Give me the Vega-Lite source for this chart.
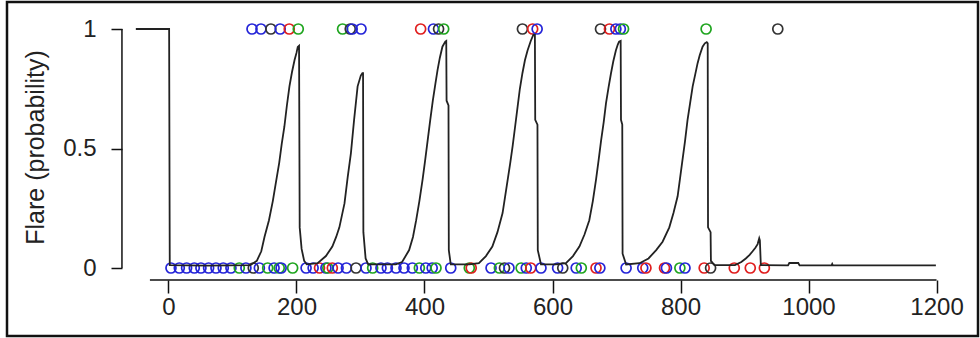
{
  "$schema": "https://vega.github.io/schema/vega-lite/v6.json",
  "width": 971,
  "height": 334,
  "autosize": {"type": "none"},
  "padding": {"left": 7, "top": 2, "right": 2, "bottom": 2},
  "background": "white",
  "config": {
    "view": {"stroke": "#111111", "strokeWidth": 2.5},
    "axis": {
      "grid": false,
      "domain": false,
      "tickColor": "#111111",
      "tickWidth": 1.5,
      "labelColor": "#222222",
      "titleColor": "#222222",
      "labelFont": "Liberation Sans",
      "titleFont": "Liberation Sans",
      "labelFontSize": 24,
      "titleFontSize": 25,
      "titleFontWeight": "normal"
    },
    "axisX": {"offset": -56, "tickSize": 13, "labelPadding": 2, "labelFlush": false, "labelOverlap": false},
    "axisY": {"offset": -115, "tickSize": 11, "labelPadding": 15, "titleX": -79, "titleY": 145, "titleAngle": -90, "titleAlign": "center", "titleBaseline": "alphabetic", "labelFlush": false, "labelOverlap": false}
  },
  "datasets": {
    "prob": [
      {"t": -51, "p": 1}, {"t": 1, "p": 1}, {"t": 2, "p": 0.012}, {"t": 60, "p": 0.01}, {"t": 128, "p": 0.012},
      {"t": 138, "p": 0.03}, {"t": 145, "p": 0.07}, {"t": 150, "p": 0.13}, {"t": 157, "p": 0.2}, {"t": 163, "p": 0.28},
      {"t": 168, "p": 0.36}, {"t": 173, "p": 0.44}, {"t": 177, "p": 0.52}, {"t": 181, "p": 0.59}, {"t": 185, "p": 0.68},
      {"t": 189, "p": 0.76}, {"t": 193, "p": 0.82}, {"t": 197, "p": 0.87}, {"t": 200, "p": 0.9}, {"t": 202, "p": 0.925},
      {"t": 204, "p": 0.93}, {"t": 205, "p": 0.17}, {"t": 208, "p": 0.08}, {"t": 212, "p": 0.03}, {"t": 216, "p": 0.015},
      {"t": 233, "p": 0.02}, {"t": 246, "p": 0.05}, {"t": 256, "p": 0.09}, {"t": 262, "p": 0.13}, {"t": 267, "p": 0.17},
      {"t": 271, "p": 0.22}, {"t": 275, "p": 0.27}, {"t": 280, "p": 0.38}, {"t": 285, "p": 0.48}, {"t": 290, "p": 0.62},
      {"t": 295.5, "p": 0.76}, {"t": 300.5, "p": 0.805}, {"t": 303, "p": 0.815}, {"t": 304, "p": 0.815}, {"t": 304.5, "p": 0.15},
      {"t": 308, "p": 0.04}, {"t": 312, "p": 0.015},
      {"t": 355, "p": 0.015}, {"t": 365, "p": 0.025}, {"t": 376, "p": 0.075}, {"t": 382, "p": 0.13}, {"t": 387, "p": 0.2},
      {"t": 392, "p": 0.28}, {"t": 397, "p": 0.37}, {"t": 401, "p": 0.45}, {"t": 405, "p": 0.535}, {"t": 409, "p": 0.62},
      {"t": 413, "p": 0.7}, {"t": 417, "p": 0.77}, {"t": 420.5, "p": 0.83}, {"t": 424, "p": 0.88}, {"t": 428, "p": 0.926},
      {"t": 432.5, "p": 0.947}, {"t": 434, "p": 0.95}, {"t": 434.5, "p": 0.7}, {"t": 437.5, "p": 0.68}, {"t": 438, "p": 0.075},
      {"t": 441, "p": 0.015},
      {"t": 470, "p": 0.015}, {"t": 485, "p": 0.02}, {"t": 496, "p": 0.05}, {"t": 506, "p": 0.09}, {"t": 514, "p": 0.15},
      {"t": 522, "p": 0.23}, {"t": 526, "p": 0.3}, {"t": 530, "p": 0.37}, {"t": 534, "p": 0.44}, {"t": 537.7, "p": 0.51},
      {"t": 541.5, "p": 0.59}, {"t": 545.5, "p": 0.675}, {"t": 549, "p": 0.75}, {"t": 553, "p": 0.815}, {"t": 557, "p": 0.87},
      {"t": 561, "p": 0.91}, {"t": 566, "p": 0.95}, {"t": 570, "p": 0.975}, {"t": 572.5, "p": 0.975}, {"t": 573, "p": 0.62},
      {"t": 576.5, "p": 0.6}, {"t": 577, "p": 0.075}, {"t": 582, "p": 0.015},
      {"t": 605, "p": 0.015}, {"t": 621, "p": 0.02}, {"t": 632, "p": 0.05}, {"t": 642, "p": 0.09}, {"t": 650, "p": 0.14},
      {"t": 657.5, "p": 0.2}, {"t": 663, "p": 0.28}, {"t": 668, "p": 0.37}, {"t": 672, "p": 0.45}, {"t": 676, "p": 0.535},
      {"t": 680, "p": 0.61}, {"t": 683.6, "p": 0.69}, {"t": 687.5, "p": 0.755}, {"t": 691.4, "p": 0.815}, {"t": 695, "p": 0.865},
      {"t": 699, "p": 0.91}, {"t": 702, "p": 0.935}, {"t": 704, "p": 0.947}, {"t": 706.5, "p": 0.95}, {"t": 707, "p": 0.62},
      {"t": 709, "p": 0.6}, {"t": 709.5, "p": 0.06}, {"t": 715, "p": 0.015},
      {"t": 736, "p": 0.02}, {"t": 750, "p": 0.04}, {"t": 762, "p": 0.075}, {"t": 772, "p": 0.11}, {"t": 782.5, "p": 0.17},
      {"t": 789, "p": 0.23}, {"t": 795.5, "p": 0.3}, {"t": 799, "p": 0.37}, {"t": 803, "p": 0.45}, {"t": 807, "p": 0.53},
      {"t": 811, "p": 0.62}, {"t": 815, "p": 0.69}, {"t": 819, "p": 0.76}, {"t": 823, "p": 0.81}, {"t": 826.7, "p": 0.857},
      {"t": 830, "p": 0.89}, {"t": 834.5, "p": 0.926}, {"t": 838, "p": 0.94}, {"t": 841, "p": 0.945}, {"t": 842.5, "p": 0.94},
      {"t": 843, "p": 0.17}, {"t": 847, "p": 0.15}, {"t": 847.5, "p": 0.03}, {"t": 853, "p": 0.012},
      {"t": 885, "p": 0.012}, {"t": 895, "p": 0.025}, {"t": 902, "p": 0.04}, {"t": 908, "p": 0.055}, {"t": 912.7, "p": 0.07},
      {"t": 917, "p": 0.085}, {"t": 920.5, "p": 0.1}, {"t": 923, "p": 0.124}, {"t": 924, "p": 0.115}, {"t": 925.5, "p": 0.012},
      {"t": 968, "p": 0.011}, {"t": 970, "p": 0.021}, {"t": 984, "p": 0.021}, {"t": 986, "p": 0.011}, {"t": 1036, "p": 0.011},
      {"t": 1037, "p": 0.017}, {"t": 1038, "p": 0.011}, {"t": 1199, "p": 0.011}
    ],
    "events": [
      {"t": 130.5, "p": 1, "g": "g1"}, {"t": 144.5, "p": 1, "g": "g1"}, {"t": 160, "p": 1, "g": "g4"}, {"t": 174.5, "p": 1, "g": "g1"},
      {"t": 188.7, "p": 1, "g": "g2"}, {"t": 202.8, "p": 1, "g": "g3"}, {"t": 272, "p": 1, "g": "g3"}, {"t": 284, "p": 1, "g": "g4"},
      {"t": 287, "p": 1, "g": "g1"}, {"t": 300.8, "p": 1, "g": "g1"}, {"t": 394, "p": 1, "g": "g2"}, {"t": 414, "p": 1, "g": "g1"},
      {"t": 422, "p": 1, "g": "g4"}, {"t": 430, "p": 1, "g": "g3"}, {"t": 553, "p": 1, "g": "g4"}, {"t": 569, "p": 1, "g": "g2"},
      {"t": 576, "p": 1, "g": "g1"}, {"t": 675, "p": 1, "g": "g4"}, {"t": 689, "p": 1, "g": "g2"}, {"t": 699, "p": 1, "g": "g1"},
      {"t": 706, "p": 1, "g": "g1"}, {"t": 711, "p": 1, "g": "g3"}, {"t": 840, "p": 1, "g": "g3"}, {"t": 952, "p": 1, "g": "g4"},
      {"t": 3.9, "p": 0, "g": "g1"}, {"t": 16.9, "p": 0, "g": "g1"}, {"t": 28.3, "p": 0, "g": "g1"}, {"t": 40.3, "p": 0, "g": "g1"},
      {"t": 50.7, "p": 0, "g": "g1"}, {"t": 62.7, "p": 0, "g": "g1"}, {"t": 74.2, "p": 0, "g": "g1"}, {"t": 85.6, "p": 0, "g": "g1"},
      {"t": 97.6, "p": 0, "g": "g1"}, {"t": 110.6, "p": 0, "g": "g3"}, {"t": 121, "p": 0, "g": "g1"}, {"t": 132.5, "p": 0, "g": "g4"},
      {"t": 142, "p": 0, "g": "g1"}, {"t": 155, "p": 0, "g": "g3"}, {"t": 165, "p": 0, "g": "g1"}, {"t": 173, "p": 0, "g": "g3"},
      {"t": 176, "p": 0, "g": "g1"}, {"t": 194, "p": 0, "g": "g3"}, {"t": 215, "p": 0, "g": "g1"}, {"t": 226, "p": 0, "g": "g1"},
      {"t": 236, "p": 0, "g": "g2"}, {"t": 246, "p": 0, "g": "g1"}, {"t": 249, "p": 0, "g": "g3"}, {"t": 256, "p": 0, "g": "g2"},
      {"t": 265, "p": 0, "g": "g1"}, {"t": 278, "p": 0, "g": "g1"}, {"t": 293, "p": 0, "g": "g4"}, {"t": 308.6, "p": 0, "g": "g1"},
      {"t": 319, "p": 0, "g": "g3"}, {"t": 332, "p": 0, "g": "g1"}, {"t": 342, "p": 0, "g": "g1"}, {"t": 355.5, "p": 0, "g": "g1"},
      {"t": 368, "p": 0, "g": "g1"}, {"t": 381, "p": 0, "g": "g1"}, {"t": 392, "p": 0, "g": "g3"}, {"t": 402, "p": 0, "g": "g1"},
      {"t": 412, "p": 0, "g": "g1"}, {"t": 418, "p": 0, "g": "g3"}, {"t": 441, "p": 0, "g": "g1"}, {"t": 470, "p": 0, "g": "g3"},
      {"t": 473, "p": 0, "g": "g2"}, {"t": 504, "p": 0, "g": "g1"}, {"t": 517, "p": 0, "g": "g3"}, {"t": 525, "p": 0, "g": "g4"},
      {"t": 532, "p": 0, "g": "g1"}, {"t": 551, "p": 0, "g": "g3"}, {"t": 559, "p": 0, "g": "g1"}, {"t": 566, "p": 0, "g": "g2"},
      {"t": 582, "p": 0, "g": "g1"}, {"t": 608, "p": 0, "g": "g1"}, {"t": 616, "p": 0, "g": "g4"}, {"t": 637, "p": 0, "g": "g1"},
      {"t": 645, "p": 0, "g": "g3"}, {"t": 668, "p": 0, "g": "g2"}, {"t": 674, "p": 0, "g": "g1"}, {"t": 715, "p": 0, "g": "g1"},
      {"t": 741, "p": 0, "g": "g1"}, {"t": 746, "p": 0, "g": "g2"}, {"t": 775, "p": 0, "g": "g2"}, {"t": 778, "p": 0, "g": "g1"},
      {"t": 799, "p": 0, "g": "g3"}, {"t": 807, "p": 0, "g": "g1"}, {"t": 837, "p": 0, "g": "g2"}, {"t": 847, "p": 0, "g": "g4"},
      {"t": 884, "p": 0, "g": "g2"}, {"t": 909, "p": 0, "g": "g2"}, {"t": 931, "p": 0, "g": "g2"}
    ]
  },
  "encoding": {
    "x": {"field": "t", "type": "quantitative", "scale": {"domain": [-252.3, 1264.8], "nice": false, "zero": false},
          "axis": {"title": null, "values": [0, 200, 400, 600, 800, 1000, 1200], "format": "d"}},
    "y": {"field": "p", "type": "quantitative", "scale": {"domain": [-0.2845, 1.113], "nice": false, "zero": false},
          "axis": {"title": "Flare (probability)", "values": [0, 0.5, 1], "format": "~g"}}
  },
  "layer": [
    {
      "data": {"values": [{"t": 0, "p": 0}]},
      "mark": {"type": "rule", "color": "#111111", "strokeWidth": 1.5},
      "encoding": {
        "x": {"datum": -72.7, "type": "quantitative"},
        "y": {"datum": 0, "type": "quantitative"},
        "y2": {"datum": 1}
      }
    },
    {
      "data": {"values": [{"t": 0, "p": 0}]},
      "mark": {"type": "rule", "color": "#111111", "strokeWidth": 1.5},
      "encoding": {
        "x": {"datum": -29, "type": "quantitative"},
        "x2": {"datum": 1200},
        "y": {"datum": -0.0502, "type": "quantitative"}
      }
    },
    {
      "data": {"name": "events"},
      "mark": {"type": "point", "shape": "circle", "filled": false, "size": 100, "strokeWidth": 1.7, "opacity": 1},
      "encoding": {
        "color": {
          "field": "g", "type": "nominal",
          "scale": {"domain": ["g1", "g2", "g3", "g4"], "range": ["#2424d8", "#e01e1e", "#1fa51f", "#333333"]},
          "legend": null
        }
      }
    },
    {
      "data": {"name": "prob"},
      "mark": {"type": "line", "color": "#222222", "strokeWidth": 1.8}
    }
  ]
}
